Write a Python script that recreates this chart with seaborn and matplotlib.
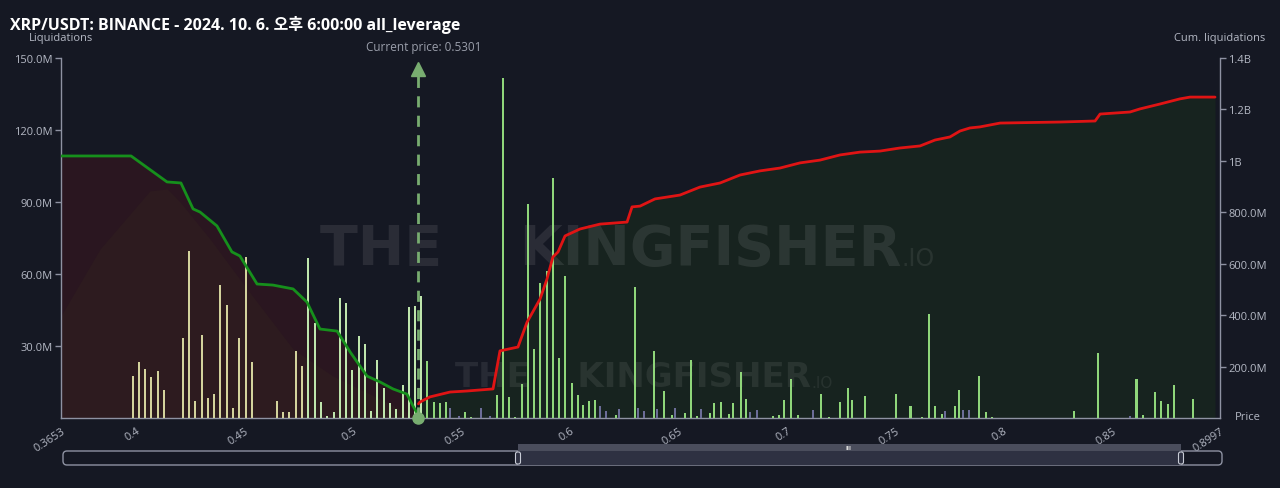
import matplotlib.pyplot as plt
import matplotlib.transforms as mtransforms
from matplotlib.patches import FancyBboxPatch
import seaborn as sns
import pandas as pd
import numpy as np

# ---- data (values in millions USD) ----
current_price = 0.5301

bar_price = [0.3984, 0.4013, 0.4042, 0.4069, 0.4099, 0.4128, 0.4216, 0.4243, 0.4272, 0.4302,
             0.4329, 0.4358, 0.4388, 0.4417, 0.4446, 0.4475, 0.4505, 0.4534, 0.4649, 0.4678,
             0.4706, 0.4735, 0.4764, 0.4793, 0.4823, 0.4852, 0.4881, 0.4910, 0.4939, 0.4967,
             0.4996, 0.5026, 0.5055, 0.5082, 0.5111, 0.5141, 0.5170, 0.5199, 0.5229, 0.5256,
             0.5285, 0.5313,
             0.5342, 0.5371, 0.5400, 0.5430, 0.5445, 0.5488, 0.5517, 0.5545, 0.5588, 0.5631,
             0.5662, 0.5691, 0.5719, 0.5748, 0.5777, 0.5806, 0.5834, 0.5863, 0.5892, 0.5921,
             0.5949, 0.5978, 0.6008, 0.6037, 0.6058, 0.6088, 0.6117, 0.6137, 0.6166, 0.6212,
             0.6226, 0.6300, 0.6312, 0.6341, 0.6386, 0.6400, 0.6435, 0.6472, 0.6484, 0.6529,
             0.6558, 0.6587, 0.6602, 0.6645, 0.6665, 0.6695, 0.6732, 0.6753, 0.6788, 0.6811,
             0.6831, 0.6861, 0.6935, 0.6964, 0.6985, 0.7020, 0.7050, 0.7122, 0.7157, 0.7194,
             0.7243, 0.7280, 0.7302, 0.7360, 0.7504, 0.7570, 0.7625, 0.7656, 0.7684, 0.7715,
             0.7729, 0.7773, 0.7794, 0.7813, 0.7841, 0.7887, 0.7917, 0.7946, 0.8323, 0.8436,
             0.8581, 0.8612, 0.8641, 0.8697, 0.8727, 0.8757, 0.8784, 0.8872]
bar_value = [17.6, 23.5, 20.4, 17.1, 19.6, 11.8, 33.3, 69.5, 7.1, 34.6,
             8.2, 10.1, 55.6, 47.2, 4.0, 33.2, 67.0, 23.2, 7.2, 2.6,
             2.4, 28.0, 21.8, 66.5, 39.4, 6.5, 1.0, 2.4, 49.9, 47.8,
             20.0, 34.3, 30.8, 3.0, 24.3, 12.4, 6.2, 3.7, 13.9, 46.1,
             46.5, 51.0,
             23.9, 6.5, 6.2, 6.8, 4.0, 0.7, 2.4, 0.4, 4.0, 0.8,
             9.7, 141.5, 8.9, 0.5, 14.2, 89.0, 28.8, 56.2, 61.1, 100.0,
             25.0, 59.0, 14.6, 9.7, 5.5, 7.2, 7.6, 5.1, 2.8, 1.2,
             3.7, 54.4, 4.0, 3.0, 27.8, 3.7, 11.1, 1.2, 4.0, 2.1,
             24.2, 1.0, 3.7, 2.1, 6.2, 6.5, 1.7, 6.1, 19.0, 7.9,
             2.6, 3.2, 1.0, 1.2, 7.6, 16.2, 1.2, 3.5, 10.0, 0.6,
             6.5, 12.5, 7.5, 9.0, 10.0, 4.9, 0.5, 43.3, 5.1, 1.7,
             2.8, 5.1, 11.8, 3.5, 3.5, 17.6, 2.4, 0.5, 3.0, 27.0,
             0.7, 16.2, 1.4, 10.7, 7.0, 5.8, 13.8, 7.9]
# y = far longs, p = near longs, g = shorts, v = small shorts
bar_kind = (['y'] * 23 + ['p'] * 19 +
            ['g', 'g', 'g', 'g', 'v', 'v', 'g', 'g', 'v', 'v',
             'g', 'g', 'g', 'g', 'g', 'g', 'g', 'g', 'g', 'g',
             'g', 'g', 'g', 'g', 'g', 'g', 'g', 'v', 'v', 'g',
             'v', 'g', 'v', 'v', 'g', 'v', 'g', 'g', 'v', 'g',
             'g', 'g', 'v', 'g', 'g', 'g', 'g', 'g', 'g', 'g',
             'v', 'v', 'g', 'g', 'g', 'g', 'g', 'v', 'g', 'g',
             'g', 'g', 'g', 'g', 'g', 'g', 'g', 'g', 'g', 'g',
             'v', 'g', 'g', 'v', 'v', 'g', 'g', 'g', 'g', 'g',
             'v', 'g', 'g', 'g', 'g', 'g', 'g', 'g'])

long_cum_price = [0.3653, 0.3976, 0.4142, 0.4206, 0.4262, 0.4294, 0.4372, 0.4441, 0.4478, 0.4557,
                  0.4630, 0.4723, 0.4787, 0.4847, 0.4926, 0.4986, 0.5064, 0.5124, 0.5184, 0.5248,
                  0.5276, 0.5301]
long_cum_value = [1019, 1019, 918, 914, 813, 801, 747, 646, 630, 521,
                  517, 502, 451, 346, 338, 257, 163, 140, 113, 93,
                  47, 10]

short_cum_price = [0.5301, 0.5308, 0.5354, 0.5447, 0.5525, 0.5645, 0.5677, 0.5760, 0.5802, 0.5862,
                   0.5894, 0.5921, 0.5945, 0.5977, 0.6046, 0.6138, 0.6263, 0.6286, 0.6323, 0.6392,
                   0.6507, 0.6599, 0.6692, 0.6784, 0.6876, 0.6968, 0.7060, 0.7153, 0.7245, 0.7337,
                   0.7429, 0.7521, 0.7614, 0.7683, 0.7752, 0.7798, 0.7844, 0.7890, 0.7983, 0.8259,
                   0.8421, 0.8444, 0.8582, 0.8628, 0.8720, 0.8812, 0.8859, 0.8974]
short_cum_value = [55, 62, 82, 101, 105, 113, 261, 276, 373, 463,
                   541, 626, 646, 708, 735, 754, 762, 821, 824, 852,
                   867, 898, 914, 945, 961, 972, 992, 1003, 1023, 1034,
                   1038, 1050, 1058, 1081, 1093, 1116, 1128, 1132, 1147, 1151,
                   1155, 1182, 1190, 1202, 1221, 1241, 1248, 1248]

# faint density hill behind the long side
hill_price = [0.3653, 0.3833, 0.4063, 0.4142, 0.4202, 0.4340, 0.4511, 0.4723, 0.4907, 0.5124, 0.5299]
hill_value = [397, 657, 883, 891, 840, 696, 502, 268, 163, 74, 0]

x_ticks = [0.3653, 0.4, 0.45, 0.5, 0.55, 0.6, 0.65, 0.7, 0.75, 0.8, 0.85, 0.8997]
x_labels = ['0.3653', '0.4', '0.45', '0.5', '0.55', '0.6', '0.65', '0.7', '0.75', '0.8', '0.85', '0.8997']
left_ticks = [30, 60, 90, 120, 150]
left_labels = ['30.0M', '60.0M', '90.0M', '120.0M', '150.0M']
right_ticks = [200, 400, 600, 800, 1000, 1200, 1400]
right_labels = ['200.0M', '400.0M', '600.0M', '800.0M', '1B', '1.2B', '1.4B']

# ---- style ----
BG = '#151823'
AXIS = '#8e92a2'
TXT = '#b4b8c4'
kind_colors = {'y': '#d3d39c', 'p': '#bfe6ad', 'g': '#8fd67a', 'v': '#6c6d98'}
WM_FONT = 'DejaVu Sans'

sns.set_theme(style='dark')
plt.rcParams['font.family'] = ['Open Sans', 'Noto Sans CJK KR', 'DejaVu Sans']

bars = pd.DataFrame({'price': bar_price, 'value': bar_value, 'kind': bar_kind})
longs = pd.DataFrame({'price': long_cum_price, 'cum': long_cum_value})
shorts = pd.DataFrame({'price': short_cum_price, 'cum': short_cum_value})

fig = plt.figure(figsize=(12.8, 4.89), dpi=100)
fig.patch.set_facecolor(BG)
ax = fig.add_axes([61 / 1280, 1 - 419 / 489, 1159 / 1280, 360 / 489])
ax.set_facecolor(BG)
axb = ax.twinx()
axl = ax.twinx()

xmin, xmax = x_ticks[0], x_ticks[-1]

# layer 1: cumulative fills + watermark
ax.fill_between(longs['price'], longs['cum'], color='#2a1620', lw=0)
ax.fill_between(hill_price, hill_value, color='#2d1b1f', lw=0)
ax.fill_between(shorts['price'], shorts['cum'], color='#17231f', lw=0)

wm1 = ax.text(0.2235, 0.47, 'THE    KINGFISHER', transform=ax.transAxes, ha='left', va='center',
              fontsize=40, fontweight='bold', color='white', alpha=0.09, family=WM_FONT)
ax.annotate('.IO', xy=(1.0, 0.1), xycoords=wm1, ha='left', va='bottom',
            fontsize=17, color='white', alpha=0.08, family=WM_FONT)
wm2 = ax.text(0.34, 0.114, 'THE    KINGFISHER', transform=ax.transAxes, ha='left', va='center',
              fontsize=24.5, fontweight='bold', color='white', alpha=0.08, family=WM_FONT)
ax.annotate('.IO', xy=(1.0, 0.1), xycoords=wm2, ha='left', va='bottom',
            fontsize=11, color='white', alpha=0.07, family=WM_FONT)
ax.set_ylim(0, 1400)
ax.set_xlim(xmin, xmax)

# layer 2: liquidation bars
axb.bar(bars['price'], bars['value'], width=0.00095,
        color=[kind_colors[k] for k in bars['kind']], lw=0)
axb.set_ylim(0, 150)

# layer 3: cumulative lines + current price
sns.lineplot(data=longs, x='price', y='cum', ax=axl, color='#16901c', lw=2, estimator=None, sort=False)
sns.lineplot(data=shorts, x='price', y='cum', ax=axl, color='#e01414', lw=2, estimator=None, sort=False)
axl.set_ylim(0, 1400)
axl.set_xlim(xmin, xmax)
axl.axvline(current_price, ymin=0, ymax=0.96, color='#78ad70', lw=2, ls=(0, (4, 3)))
blend = mtransforms.blended_transform_factory(axl.transData, axl.transAxes)
axl.plot([current_price], [0.97], marker='^', ms=10, color='#78ad70', transform=blend, clip_on=False)
axl.plot([current_price], [0.0], marker='o', ms=8, color='#78ad70', transform=blend, clip_on=False)

# axes / ticks
for a in (ax, axb, axl):
    for s in a.spines.values():
        s.set_visible(False)
    a.set_xlabel('')
    a.set_ylabel('')
    a.grid(False)
for k in ('left', 'right', 'bottom'):
    ax.spines[k].set_visible(True)
    ax.spines[k].set_color(AXIS)
    ax.spines[k].set_linewidth(1)

ax.yaxis.tick_right()
ax.set_yticks(right_ticks, right_labels)
axb.yaxis.tick_left()
axb.set_yticks(left_ticks, left_labels)
axl.set_yticks([])
ax.set_xticks(x_ticks, x_labels)
axb.tick_params(axis='x', which='both', bottom=False, labelbottom=False)
axl.tick_params(axis='x', which='both', bottom=False, labelbottom=False)
for a in (ax, axb):
    a.tick_params(axis='y', colors=AXIS, labelcolor=TXT, labelsize=8, length=4, width=1, pad=2)
ax.tick_params(axis='x', colors=AXIS, labelcolor=TXT, labelsize=8, length=4, width=1, pad=1)
for lbl in ax.get_xticklabels():
    lbl.set_rotation(33)
    lbl.set_ha('right')
    lbl.set_rotation_mode('anchor')

# texts
fig.text(10 / 1280, 1 - 25 / 489, 'XRP/USDT: BINANCE - 2024. 10. 6. 오후 6:00:00 all_leverage',
         ha='left', va='center', fontsize=11.5, fontweight='bold', color='white')
fig.text(61 / 1280, 1 - 39 / 489, 'Liquidations', ha='center', va='center', fontsize=8, color=TXT)
fig.text(1220 / 1280, 1 - 39 / 489, 'Cum. liquidations', ha='center', va='center', fontsize=8, color=TXT)
fig.text(1235 / 1280, 1 - 418 / 489, 'Price', ha='left', va='center', fontsize=8, color=TXT)
fig.text(424 / 1280, 1 - 47 / 489, f'Current price: {current_price}', ha='center', va='center',
         fontsize=8.5, color='#9a9eaa')

# range slider under the chart (pixel -> inch)
tr = fig.dpi_scale_trans
def px(x, y):
    return x / 100, (489 - y) / 100

x0, y0 = px(63, 466)
fig.patches.append(FancyBboxPatch((x0, y0), 11.59, 0.14, boxstyle='round,pad=0,rounding_size=0.04',
                                  transform=tr, facecolor=BG, edgecolor=AXIS, lw=1))
sx, sy = px(518, 466)
fig.patches.append(FancyBboxPatch((sx, sy), 6.63, 0.14, boxstyle='square,pad=0',
                                  transform=tr, facecolor='#2e3142', edgecolor='none'))
ux, uy = px(518, 452)
fig.patches.append(FancyBboxPatch((ux, uy), 6.63, 0.07, boxstyle='square,pad=0',
                                  transform=tr, facecolor='#4a4d5c', edgecolor='none'))
for hx in (518, 1181):
    hx0, hy0 = px(hx - 2.5, 465)
    fig.patches.append(FancyBboxPatch((hx0, hy0), 0.05, 0.12, boxstyle='round,pad=0,rounding_size=0.02',
                                      transform=tr, facecolor='#2e3142', edgecolor='#c8ccd6', lw=0.8))
gx, gy = px(849, 448.5)
fig.text(gx / 12.8, gy / 4.89, 'III', ha='center', va='center', fontsize=4.5, color='#e0e0e0',
         fontweight='bold')

fig.savefig('out.png', dpi=100, facecolor=BG)
